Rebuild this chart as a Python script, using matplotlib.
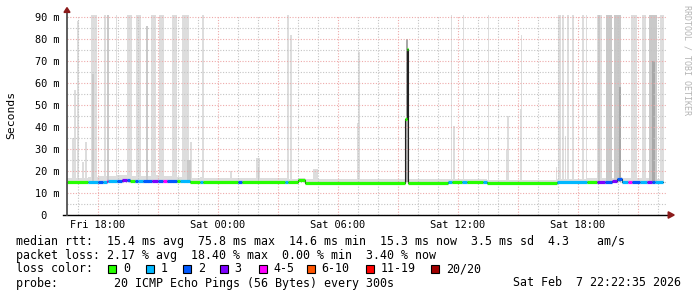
import matplotlib
matplotlib.use('Agg')
import matplotlib.pyplot as plt
from matplotlib.patches import Rectangle, Polygon

# time axis: hours since Fri 00:00, 5 minute steps
# median rtt (ms) per run of equal loss colour, loss given as index into loss_labels
seg_start = [16.45, 17.50, 18.00, 18.25, 18.45, 18.50, 18.95, 19.20, 19.45, 19.60,
             19.85, 20.00, 20.25, 20.70, 21.00, 21.25, 21.45, 21.95, 22.10, 22.60,
             23.10, 23.25, 25.00, 25.20, 27.35, 27.50, 28.00, 28.35, 33.35, 33.43,
             33.52, 35.50, 35.70, 36.20, 36.45, 37.25, 37.45, 40.95, 42.45, 42.95,
             43.35, 43.70, 43.95, 44.20, 44.50, 44.70, 45.10, 45.45, 45.70, 45.85]
seg_med = [15.0, 15.1, 15.2, 15.2, 15.3, 15.3, 15.5, 15.7, 15.8, 15.5,
           15.6, 15.5, 15.5, 15.6, 15.5, 15.6, 15.5, 15.3, 15.3, 15.1,
           15.1, 14.9, 15.0, 14.8, 14.9, 14.8, 16.0, 14.7, 43.6, 75.5,
           14.7, 14.9, 14.8, 14.9, 14.8, 14.9, 14.7, 15.0, 15.1, 15.1,
           15.1, 15.3, 16.3, 15.1, 15.1, 15.1, 15.1, 15.1, 14.9, 15.1]
seg_loss = [0, 1, 2, 1, 4, 1, 2, 3, 2, 0,
            2, 1, 2, 3, 2, 4, 2, 0, 1, 0,
            1, 0, 2, 0, 1, 0, 0, 0, 0, 0,
            0, 1, 0, 1, 0, 1, 0, 1, 0, 3,
            2, 3, 2, 1, 4, 2, 1, 3, 2, 1]
# top of the thin smoke hugging the median
seg_smoke = [17.0, 17.2, 17.6, 17.8, 18.0, 17.8, 18.0, 18.2, 18.3, 17.6,
             17.8, 17.6, 17.8, 18.0, 17.6, 17.8, 17.6, 17.2, 17.4, 17.0,
             17.2, 16.8, 17.0, 16.6, 16.6, 16.4, 17.0, 16.2, 43.6, 79.5,
             16.2, 16.4, 16.2, 16.4, 16.2, 16.4, 16.0, 16.4, 16.6, 16.8,
             16.8, 17.0, 17.4, 16.8, 16.8, 16.6, 16.6, 16.6, 16.4, 16.4]
data_end = 46.25

# single smoke spikes (outliers among the 20 pings), tone: 0 light .. 2 dark
spike_start = [16.70, 16.80, 16.95, 17.20, 17.35, 17.65, 17.70, 18.30, 18.45, 18.90,
               19.45, 19.90, 20.40, 20.65, 21.05, 21.70, 22.20, 22.45, 22.60, 23.20,
               24.60, 25.90, 26.00, 27.45, 27.60, 28.75, 30.95, 31.00, 33.40, 35.65,
               35.75, 36.25, 37.50, 38.40, 38.45, 39.10, 39.15, 40.90, 41.00, 41.20,
               41.35, 41.45, 41.70, 42.20, 42.40, 42.95, 43.00, 43.40, 43.80, 44.05,
               44.65, 45.20, 45.55, 45.70, 46.10]
spike_end = [16.80, 16.90, 17.05, 17.30, 17.45, 17.95, 17.80, 18.40, 18.55, 18.95,
             19.70, 20.15, 20.50, 20.90, 21.30, 21.95, 22.55, 22.65, 22.70, 23.30,
             24.70, 26.10, 26.05, 27.55, 27.70, 29.00, 31.00, 31.10, 33.50, 35.70,
             35.85, 36.30, 37.55, 38.45, 38.55, 39.15, 39.20, 40.95, 41.15, 41.30,
             41.40, 41.55, 41.80, 42.30, 42.45, 43.20, 43.10, 43.70, 44.15, 44.15,
             44.95, 45.40, 45.95, 45.85, 46.30]
spike_top = [35, 57, 88, 24, 33, 95, 64, 95, 95, 95,
             95, 95, 86, 95, 95, 95, 95, 25, 33, 95,
             20, 26, 22, 95, 82, 21, 42, 74, 80, 95,
             40.5, 95, 95, 29.5, 45, 48, 82, 22, 95, 95,
             36, 95, 95, 95, 95, 95, 95, 95, 95, 58,
             95, 95, 95, 70, 95]
spike_tone = [0, 0, 0, 0, 0, 0, 1, 0, 1, 0,
              0, 0, 1, 0, 0, 0, 0, 1, 0, 0,
              0, 0, 1, 0, 0, 0, 0, 0, 2, 0,
              0, 0, 0, 0, 0, 0, 0, 0, 0, 0,
              0, 0, 0, 0, 0, 0, 1, 1, 1, 2,
              0, 0, 1, 2, 0]

loss_labels = ['0', '1', '2', '3', '4-5', '6-10', '11-19', '20/20']
loss_colors = ['#26ff00', '#00b8ff', '#0059ff', '#7e00ff', '#ff00ff', '#ff5500', '#ff0000', '#a00000']
smoke_tones = ['#dddddd', '#c9c9c9', '#a8a8a8']

xtick_hours = [18, 24, 30, 36, 42]
xtick_labels = ['Fri 18:00', 'Sat 00:00', 'Sat 06:00', 'Sat 12:00', 'Sat 18:00']
ytick_vals = [0, 10, 20, 30, 40, 50, 60, 70, 80, 90]
ytick_labels = [' 0'] + ['%d m' % v for v in ytick_vals[1:]]

line_rtt = 'median rtt:  15.4 ms avg  75.8 ms max  14.6 ms min  15.3 ms now  3.5 ms sd  4.3    am/s'
line_loss = 'packet loss: 2.17 % avg  18.40 % max  0.00 % min  3.40 % now'
line_probe = 'probe:        20 ICMP Echo Pings (56 Bytes) every 300s'
stamp = 'Sat Feb  7 22:22:35 2026'

W, H = 697, 297
MONO = 'DejaVu Sans Mono'
plt.rcParams['font.family'] = MONO


def fx(px):
    return px / W


def fy(py):
    return 1 - py / H


fig = plt.figure(figsize=(W / 100, H / 100), dpi=100, facecolor='white')
ax = fig.add_axes([fx(67), fy(215), 600 / W, 200.2 / H])
ax.set_xlim(16.45, 46.45)
ax.set_ylim(0, 91)

# smoke
seg_end = seg_start[1:] + [data_end]
for s, e, m, top in zip(seg_start, seg_end, seg_med, seg_smoke):
    ax.bar(s, top - m + 0.6, bottom=m - 0.6, width=e - s, align='edge',
           color=smoke_tones[0], linewidth=0, zorder=1)
for s, e, top, t in zip(spike_start, spike_end, spike_top, spike_tone):
    ax.bar(s, top - 15, bottom=15, width=e - s, align='edge',
           color=smoke_tones[t], linewidth=0, zorder=1 + t * 0.1)

# median: thin dark line plus loss coloured band
ax.step(seg_start + [data_end], seg_med + [seg_med[-1]], where='post',
        color='#202020', lw=0.8, zorder=4)
ax.hlines(seg_med, seg_start, seg_end, colors=[loss_colors[l] for l in seg_loss],
          lw=2.3, capstyle='butt', zorder=5)

# grid
ax.set_xticks(range(18, 46, 3))
ax.set_xticks(range(17, 47), minor=True)
ax.set_xticklabels([xtick_labels[xtick_hours.index(h)] if h in xtick_hours else ''
                    for h in range(18, 46, 3)])
ax.set_yticks(ytick_vals)
ax.set_yticks(range(5, 91, 10), minor=True)
ax.set_yticklabels(ytick_labels, ha='left')
ax.grid(which='minor', color='#c4c4c4', lw=0.8, ls=(0, (1, 1.5)))
ax.grid(which='major', color='#eeaaaa', lw=0.8, ls=(0, (1, 1.5)))
ax.set_axisbelow(False)
ax.tick_params(which='both', length=0)
ax.tick_params(axis='x', pad=3.5, labelsize=7.4)
ax.tick_params(axis='y', pad=23, labelsize=7.4)
for sp in ax.spines.values():
    sp.set_visible(False)

# axes with arrow heads
ax.plot([-0.007, 1.004], [0, 0], transform=ax.transAxes, color='black', lw=1.0,
        clip_on=False, zorder=6)
ax.plot([0, 0], [0, 1.015], transform=ax.transAxes, color='#505050', lw=1.3,
        clip_on=False, zorder=6)
ax.add_patch(Polygon([(1.002, -0.016), (1.002, 0.016), (1.012, 0)], closed=True,
                     transform=ax.transAxes, color='#8b1a1a', clip_on=False, zorder=7))
ax.add_patch(Polygon([(-0.005, 1.012), (0.005, 1.012), (0, 1.036)], closed=True,
                     transform=ax.transAxes, color='#8b1a1a', clip_on=False, zorder=7))

fig.text(fx(11), fy(115), 'Seconds', rotation=90, ha='center', va='center', fontsize=8.2)
fig.text(fx(687), fy(60), 'RRDTOOL / TOBI OETIKER', rotation=270, ha='center', va='center',
         fontsize=6, color='#b4b4b4')

# legend
fig.text(fx(16), fy(241), line_rtt, ha='left', va='center', fontsize=8.4)
fig.text(fx(16), fy(255), line_loss, ha='left', va='center', fontsize=8.4)
fig.text(fx(16), fy(269), 'loss color:', ha='left', va='center', fontsize=8.4)
box_x = [108, 145.7, 183, 219.5, 258.5, 306.5, 366, 431]
for bx, lab, col in zip(box_x, loss_labels, loss_colors):
    fig.patches.append(Rectangle((fx(bx), fy(272.5)), 8 / W, 8 / H, transform=fig.transFigure,
                                 facecolor=col, edgecolor='black', lw=0.8, figure=fig))
    fig.text(fx(bx + 15), fy(269), lab, ha='left', va='center', fontsize=8.4)
fig.text(fx(16), fy(283), line_probe, ha='left', va='center', fontsize=8.4)
fig.text(fx(681), fy(283), stamp, ha='right', va='center', fontsize=8.4)

fig.savefig('out.png', dpi=100, facecolor='white')
